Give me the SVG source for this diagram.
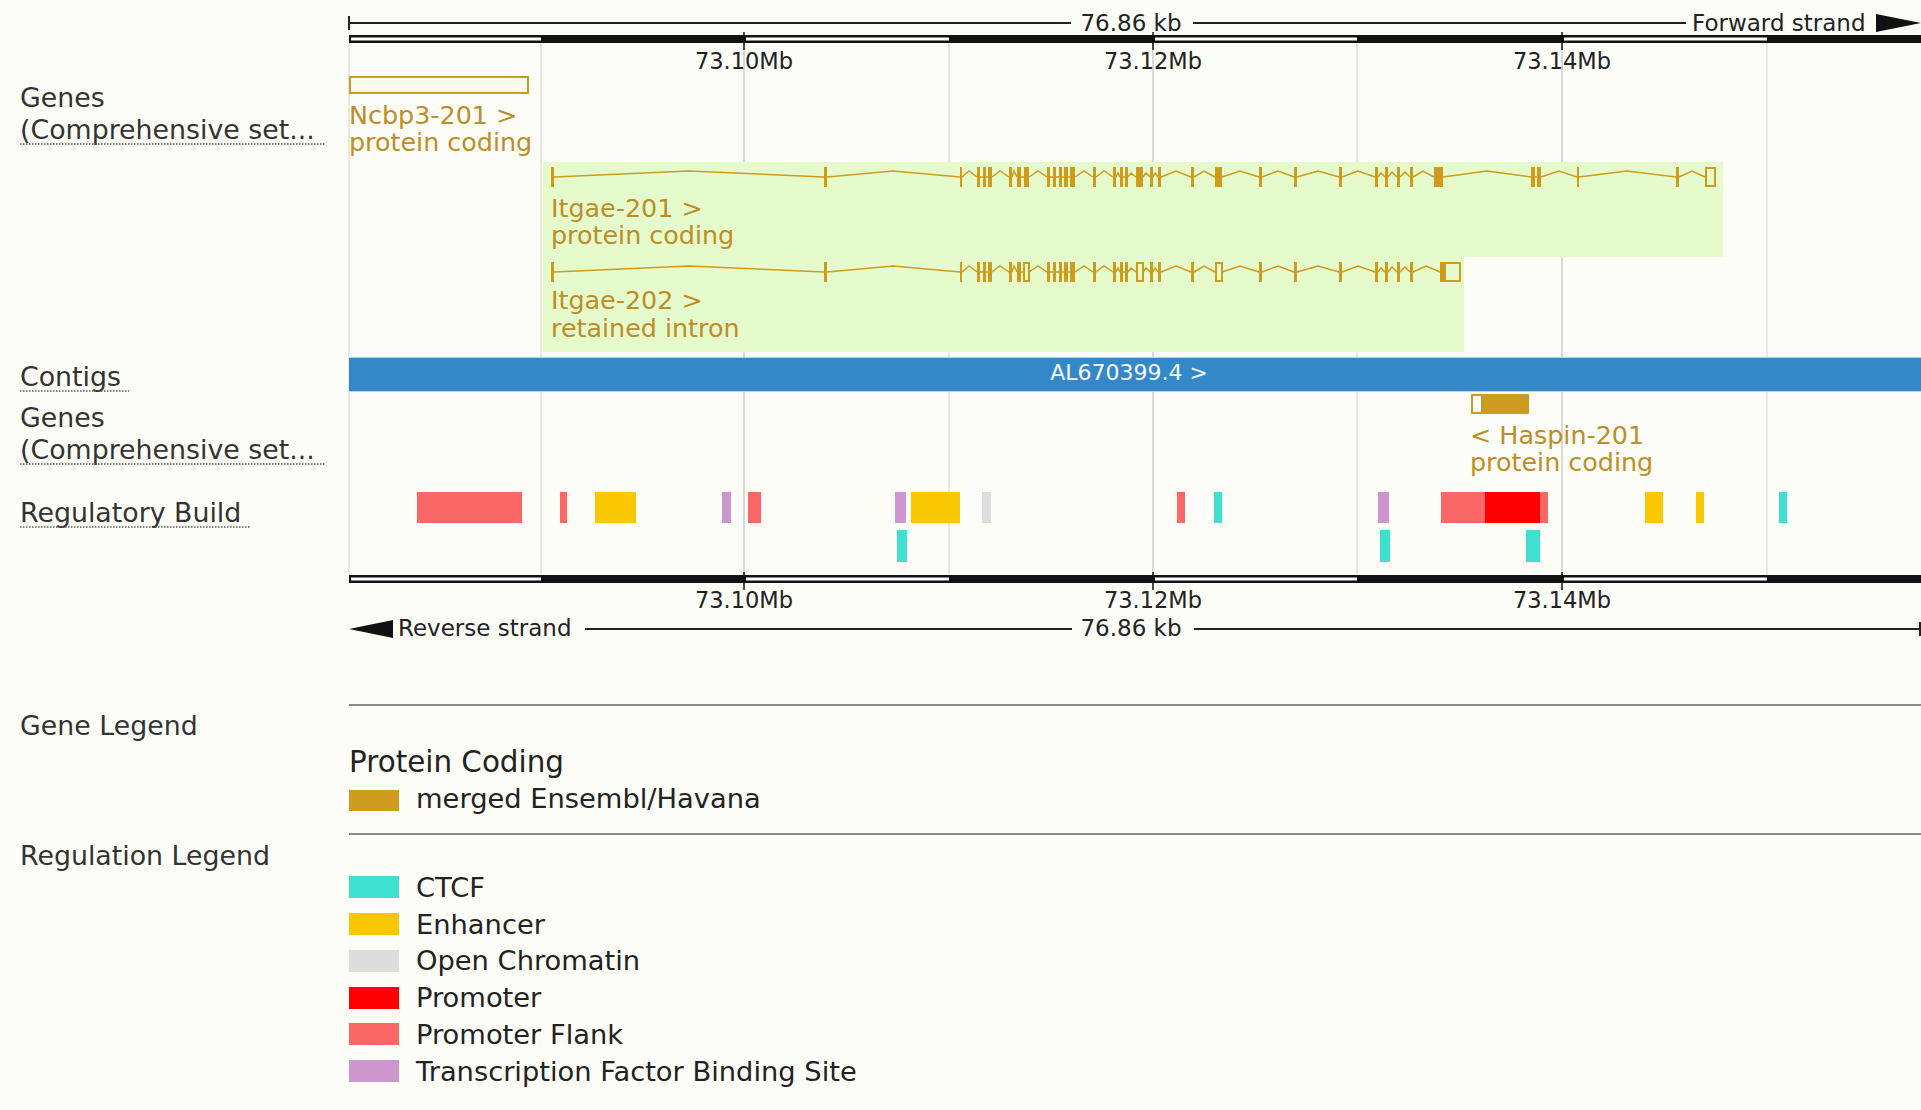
<svg xmlns="http://www.w3.org/2000/svg" width="1921" height="1110" viewBox="0 0 1921 1110">
<style>
text{font-family:"DejaVu Sans","Liberation Sans",sans-serif}
.lab{font-size:26.8px;fill:#333}
.sc{font-size:23px;fill:#222}
.tk{font-size:22.5px;fill:#222;text-anchor:middle}
.gl{font-size:25.4px;fill:#bd8d27}
.lg{font-size:27.3px;fill:#222}
.dot{stroke:#555;stroke-width:1.5;stroke-dasharray:1.5 1.5}
.gmaj{stroke:#c2c2c2;stroke-width:1.2}
.gmin{stroke:#dadada;stroke-width:1.2}
.intr{fill:none;stroke:#cd9b1d;stroke-width:1.5}
.ex{fill:#cd9b1d}
.exo{fill:none;stroke:#cd9b1d;stroke-width:2}
.ctcf{fill:#40e0d0}.enh{fill:#f9c800}.open{fill:#dcdcdc}.prom{fill:#ff0000}.pf{fill:#fb6767}.tfbs{fill:#cd96cd}
</style>
<rect x="0" y="0" width="1921" height="1110" fill="#fdfdf8"/>

<g id="grid">
<line class="gmin" x1="349" y1="43" x2="349" y2="575"/>
<line class="gmin" x1="541" y1="43" x2="541" y2="575"/>
<line class="gmaj" x1="744" y1="43" x2="744" y2="575"/>
<line class="gmin" x1="949" y1="43" x2="949" y2="575"/>
<line class="gmaj" x1="1153" y1="43" x2="1153" y2="575"/>
<line class="gmin" x1="1357" y1="43" x2="1357" y2="575"/>
<line class="gmaj" x1="1562" y1="43" x2="1562" y2="575"/>
<line class="gmin" x1="1767" y1="43" x2="1767" y2="575"/>
</g>

<g id="top-scale">
<line x1="349" y1="16" x2="349" y2="30" stroke="#222" stroke-width="2"/>
<line x1="349" y1="23" x2="1071" y2="23" stroke="#222" stroke-width="2"/>
<line x1="1193" y1="23" x2="1686" y2="23" stroke="#222" stroke-width="2"/>
<text class="sc" x="1131" y="31" text-anchor="middle">76.86 kb</text>
<text class="sc" x="1692" y="31">Forward strand</text>
<polygon points="1876,14 1921,23 1876,32" fill="#111"/>
</g>

<g id="top-ruler">
<rect x="349" y="35" width="1572" height="8" fill="#111"/>
<rect x="351" y="37.5" width="190" height="3" fill="#fff"/>
<rect x="746" y="37.5" width="203" height="3" fill="#fff"/>
<rect x="1155" y="37.5" width="202" height="3" fill="#fff"/>
<rect x="1564" y="37.5" width="203" height="3" fill="#fff"/>
<line x1="744" y1="32" x2="744" y2="50" stroke="#111" stroke-width="1.5"/>
<line x1="1153" y1="32" x2="1153" y2="50" stroke="#111" stroke-width="1.5"/>
<line x1="1562" y1="32" x2="1562" y2="50" stroke="#111" stroke-width="1.5"/>
<text class="tk" x="744" y="69">73.10Mb</text>
<text class="tk" x="1153" y="69">73.12Mb</text>
<text class="tk" x="1562" y="69">73.14Mb</text>
</g>

<g id="labels">
<text class="lab" x="20" y="107">Genes</text>
<text class="lab" x="20" y="139">(Comprehensive set...</text>
<line class="dot" x1="20" y1="144" x2="326" y2="144"/>
<text class="lab" x="20" y="386">Contigs</text>
<line class="dot" x1="20" y1="391" x2="129" y2="391"/>
<text class="lab" x="20" y="427">Genes</text>
<text class="lab" x="20" y="459">(Comprehensive set...</text>
<line class="dot" x1="20" y1="464" x2="326" y2="464"/>
<text class="lab" x="20" y="522">Regulatory Build</text>
<line class="dot" x1="20" y1="527" x2="251" y2="527"/>
<text class="lab" x="20" y="735">Gene Legend</text>
<text class="lab" x="20" y="865">Regulation Legend</text>
</g>

<g id="ncbp3-201">
<rect x="350" y="77" width="178" height="16" fill="#fdfbea" stroke="#cd9b1d" stroke-width="2"/>
<text class="gl" x="349" y="124">Ncbp3-201 &gt;</text>
<text class="gl" x="349" y="151">protein coding</text>
</g>

<g id="itgae-201">
<rect x="543" y="162" width="1180" height="95" fill="#e5fbcc"/>
<path class="intr" d="M554,177 L689,171 L824,177 M827,177 L893,171 L960,177 M962,177 L969,171 L977,177 M980,177 L983,177 M986,177 L988,177 M992,177 L1000,171 L1009,177 M1012,177 L1014,171 L1017,177 M1021,177 L1024,177 M1029,177 L1038,171 L1047,177 M1050,177 L1053,177 M1056,177 L1059,177 M1062,177 L1064,177 M1068,177 L1070,177 M1075,177 L1084,171 L1093,177 M1096,177 L1104,171 L1113,177 M1116,177 L1118,173 L1120,177 M1123,177 L1125,177 M1128,177 L1131,173 L1136,177 M1143,177 L1146,173 L1150,177 M1153,177 L1155,173 L1158,177 M1161,177 L1176,171 L1191,177 M1194,177 L1204,171 L1215,177 M1222,177 L1240,171 L1259,177 M1262,177 L1278,171 L1294,177 M1297,177 L1318,171 L1339,177 M1342,177 L1358,171 L1375,177 M1378,177 L1381,173 L1385,177 M1388,177 L1392,172 L1397,177 M1400,177 L1405,172 L1410,177 M1413,177 L1423,171 L1434,177 M1443,177 L1487,171 L1531,177 M1535,177 L1537,177 M1541,177 L1559,171 L1577,177 M1579,177 L1627,171 L1676,177 M1679,177 L1692,171 L1705,177"/>
<g class="ex">
<rect x="551" y="167" width="3" height="20"/><rect x="824" y="167" width="3" height="20"/>
<rect x="960" y="167" width="2" height="20"/><rect x="977" y="167" width="3" height="20"/>
<rect x="983" y="167" width="3" height="20"/><rect x="988" y="167" width="4" height="20"/>
<rect x="1009" y="167" width="3" height="20"/><rect x="1017" y="167" width="4" height="20"/>
<rect x="1024" y="167" width="5" height="20"/><rect x="1047" y="167" width="3" height="20"/>
<rect x="1053" y="167" width="3" height="20"/><rect x="1059" y="167" width="3" height="20"/>
<rect x="1064" y="167" width="4" height="20"/><rect x="1070" y="167" width="5" height="20"/>
<rect x="1093" y="167" width="3" height="20"/><rect x="1113" y="167" width="3" height="20"/>
<rect x="1120" y="167" width="3" height="20"/><rect x="1125" y="167" width="3" height="20"/>
<rect x="1136" y="167" width="7" height="20"/><rect x="1150" y="167" width="3" height="20"/>
<rect x="1158" y="167" width="3" height="20"/><rect x="1191" y="167" width="3" height="20"/>
<rect x="1215" y="167" width="7" height="20"/><rect x="1259" y="167" width="3" height="20"/>
<rect x="1294" y="167" width="3" height="20"/><rect x="1339" y="167" width="3" height="20"/>
<rect x="1375" y="167" width="3" height="20"/><rect x="1385" y="167" width="3" height="20"/>
<rect x="1397" y="167" width="3" height="20"/><rect x="1410" y="167" width="3" height="20"/>
<rect x="1434" y="167" width="9" height="20"/><rect x="1531" y="167" width="4" height="20"/>
<rect x="1537" y="167" width="4" height="20"/><rect x="1577" y="167" width="2" height="20"/>
<rect x="1676" y="167" width="3" height="20"/>
</g>
<rect class="exo" x="1706" y="168" width="9" height="18"/>
<text class="gl" x="551" y="217">Itgae-201 &gt;</text>
<text class="gl" x="551" y="244">protein coding</text>
</g>

<g id="itgae-202">
<rect x="543" y="257" width="921" height="95" fill="#e5fbcc"/>
<path class="intr" d="M554,272 L689,266 L824,272 M827,272 L893,266 L960,272 M962,272 L969,266 L977,272 M980,272 L983,272 M986,272 L988,272 M992,272 L1000,266 L1009,272 M1012,272 L1014,266 L1017,272 M1021,272 L1023,272 M1029,272 L1038,266 L1047,272 M1050,272 L1053,272 M1056,272 L1059,272 M1062,272 L1064,272 M1068,272 L1070,272 M1075,272 L1084,266 L1093,272 M1096,272 L1104,266 L1113,272 M1116,272 L1118,268 L1120,272 M1123,272 L1125,272 M1128,272 L1131,268 L1136,272 M1143,272 L1146,268 L1150,272 M1153,272 L1155,268 L1158,272 M1161,272 L1176,266 L1191,272 M1194,272 L1204,266 L1215,272 M1222,272 L1240,266 L1259,272 M1262,272 L1278,266 L1294,272 M1297,272 L1318,266 L1339,272 M1342,272 L1358,266 L1375,272 M1378,272 L1381,268 L1385,272 M1388,272 L1392,267 L1397,272 M1400,272 L1405,267 L1410,272 M1413,272 L1426,266 L1440,272"/>
<g class="ex">
<rect x="551" y="262" width="3" height="20"/><rect x="824" y="262" width="3" height="20"/>
<rect x="960" y="262" width="2" height="20"/><rect x="977" y="262" width="3" height="20"/>
<rect x="983" y="262" width="3" height="20"/><rect x="988" y="262" width="4" height="20"/>
<rect x="1009" y="262" width="3" height="20"/><rect x="1017" y="262" width="4" height="20"/>
<rect x="1047" y="262" width="3" height="20"/>
<rect x="1053" y="262" width="3" height="20"/><rect x="1059" y="262" width="3" height="20"/>
<rect x="1064" y="262" width="4" height="20"/><rect x="1070" y="262" width="5" height="20"/>
<rect x="1093" y="262" width="3" height="20"/><rect x="1113" y="262" width="3" height="20"/>
<rect x="1120" y="262" width="3" height="20"/><rect x="1125" y="262" width="3" height="20"/>
<rect x="1150" y="262" width="3" height="20"/>
<rect x="1158" y="262" width="3" height="20"/><rect x="1191" y="262" width="3" height="20"/>
<rect x="1259" y="262" width="3" height="20"/>
<rect x="1294" y="262" width="3" height="20"/><rect x="1339" y="262" width="3" height="20"/>
<rect x="1375" y="262" width="3" height="20"/><rect x="1385" y="262" width="3" height="20"/>
<rect x="1397" y="262" width="3" height="20"/><rect x="1410" y="262" width="3" height="20"/>
<rect x="1440" y="262" width="6" height="20"/>
</g>
<rect class="exo" x="1024" y="263" width="5" height="18"/>
<rect class="exo" x="1137" y="263" width="6" height="18"/>
<rect class="exo" x="1216" y="263" width="6" height="18"/>
<rect class="exo" x="1441" y="263" width="19" height="18"/>
<text class="gl" x="551" y="309">Itgae-202 &gt;</text>
<text class="gl" x="551" y="337">retained intron</text>
</g>

<g id="contig">
<rect x="349" y="357" width="1572" height="35" fill="#3588c8"/>
<line x1="349" y1="357.5" x2="1921" y2="357.5" stroke="#a9d8ee" stroke-width="1"/>
<line x1="349" y1="391.5" x2="1921" y2="391.5" stroke="#a9d8ee" stroke-width="1"/>
<text x="1129" y="380" text-anchor="middle" font-size="22" fill="#f4f8ff">AL670399.4 &gt;</text>
</g>

<g id="haspin-201">
<rect x="1471" y="394" width="58" height="20" fill="#cd9b1d"/>
<rect x="1472" y="395" width="10" height="18" fill="#fff" stroke="#cd9b1d" stroke-width="2"/>
<text class="gl" x="1470" y="444">&lt; Haspin-201</text>
<text class="gl" x="1470" y="471">protein coding</text>
</g>

<g id="regulatory-build">
<rect class="pf" x="417" y="492" width="105" height="31"/>
<rect class="pf" x="560" y="492" width="7" height="31"/>
<rect class="enh" x="595" y="492" width="41" height="31"/>
<rect class="tfbs" x="722" y="492" width="9" height="31"/>
<rect class="pf" x="748" y="492" width="13" height="31"/>
<rect class="tfbs" x="895" y="492" width="11" height="31"/>
<rect class="enh" x="911" y="492" width="49" height="31"/>
<rect class="open" x="982" y="492" width="9" height="31"/>
<rect class="pf" x="1177" y="492" width="8" height="31"/>
<rect class="ctcf" x="1214" y="492" width="8" height="31"/>
<rect class="tfbs" x="1378" y="492" width="11" height="31"/>
<rect class="pf" x="1441" y="492" width="44" height="31"/>
<rect class="prom" x="1485" y="492" width="55" height="31"/>
<rect class="pf" x="1540" y="492" width="8" height="31"/>
<rect class="enh" x="1645" y="492" width="18" height="31"/>
<rect class="enh" x="1696" y="492" width="8" height="31"/>
<rect class="ctcf" x="1779" y="492" width="8" height="31"/>
<rect class="ctcf" x="897" y="530" width="10" height="32"/>
<rect class="ctcf" x="1380" y="530" width="10" height="32"/>
<rect class="ctcf" x="1526" y="530" width="14" height="32"/>
</g>

<g id="bottom-ruler">
<rect x="349" y="575" width="1572" height="8" fill="#111"/>
<rect x="351" y="577.5" width="190" height="3" fill="#fff"/>
<rect x="746" y="577.5" width="203" height="3" fill="#fff"/>
<rect x="1155" y="577.5" width="202" height="3" fill="#fff"/>
<rect x="1564" y="577.5" width="203" height="3" fill="#fff"/>
<line x1="744" y1="572" x2="744" y2="590" stroke="#111" stroke-width="1.5"/>
<line x1="1153" y1="572" x2="1153" y2="590" stroke="#111" stroke-width="1.5"/>
<line x1="1562" y1="572" x2="1562" y2="590" stroke="#111" stroke-width="1.5"/>
<text class="tk" x="744" y="608">73.10Mb</text>
<text class="tk" x="1153" y="608">73.12Mb</text>
<text class="tk" x="1562" y="608">73.14Mb</text>
</g>

<g id="bottom-scale">
<polygon points="349,629 393,620 393,638" fill="#111"/>
<text class="sc" x="398" y="636">Reverse strand</text>
<line x1="585" y1="629" x2="1072" y2="629" stroke="#222" stroke-width="2"/>
<text class="sc" x="1131" y="636" text-anchor="middle">76.86 kb</text>
<line x1="1194" y1="629" x2="1921" y2="629" stroke="#222" stroke-width="2"/>
<line x1="1920" y1="622" x2="1920" y2="636" stroke="#222" stroke-width="2"/>
</g>

<g id="legend">
<line x1="349" y1="705" x2="1921" y2="705" stroke="#8a8a8a" stroke-width="2"/>
<text x="349" y="772" font-size="29.4" fill="#222">Protein Coding</text>
<rect x="349" y="790" width="50" height="21" fill="#cd9b1d"/>
<text class="lg" x="416" y="808">merged Ensembl/Havana</text>
<line x1="349" y1="834" x2="1921" y2="834" stroke="#8a8a8a" stroke-width="2"/>
<rect class="ctcf" x="349" y="876" width="50" height="22"/>
<text class="lg" x="416" y="897">CTCF</text>
<rect class="enh" x="349" y="913" width="50" height="22"/>
<text class="lg" x="416" y="934">Enhancer</text>
<rect class="open" x="349" y="950" width="50" height="22"/>
<text class="lg" x="416" y="970">Open Chromatin</text>
<rect class="prom" x="349" y="987" width="50" height="22"/>
<text class="lg" x="416" y="1007">Promoter</text>
<rect class="pf" x="349" y="1023" width="50" height="22"/>
<text class="lg" x="416" y="1044">Promoter Flank</text>
<rect class="tfbs" x="349" y="1060" width="50" height="22"/>
<text class="lg" x="416" y="1081">Transcription Factor Binding Site</text>
</g>
</svg>
